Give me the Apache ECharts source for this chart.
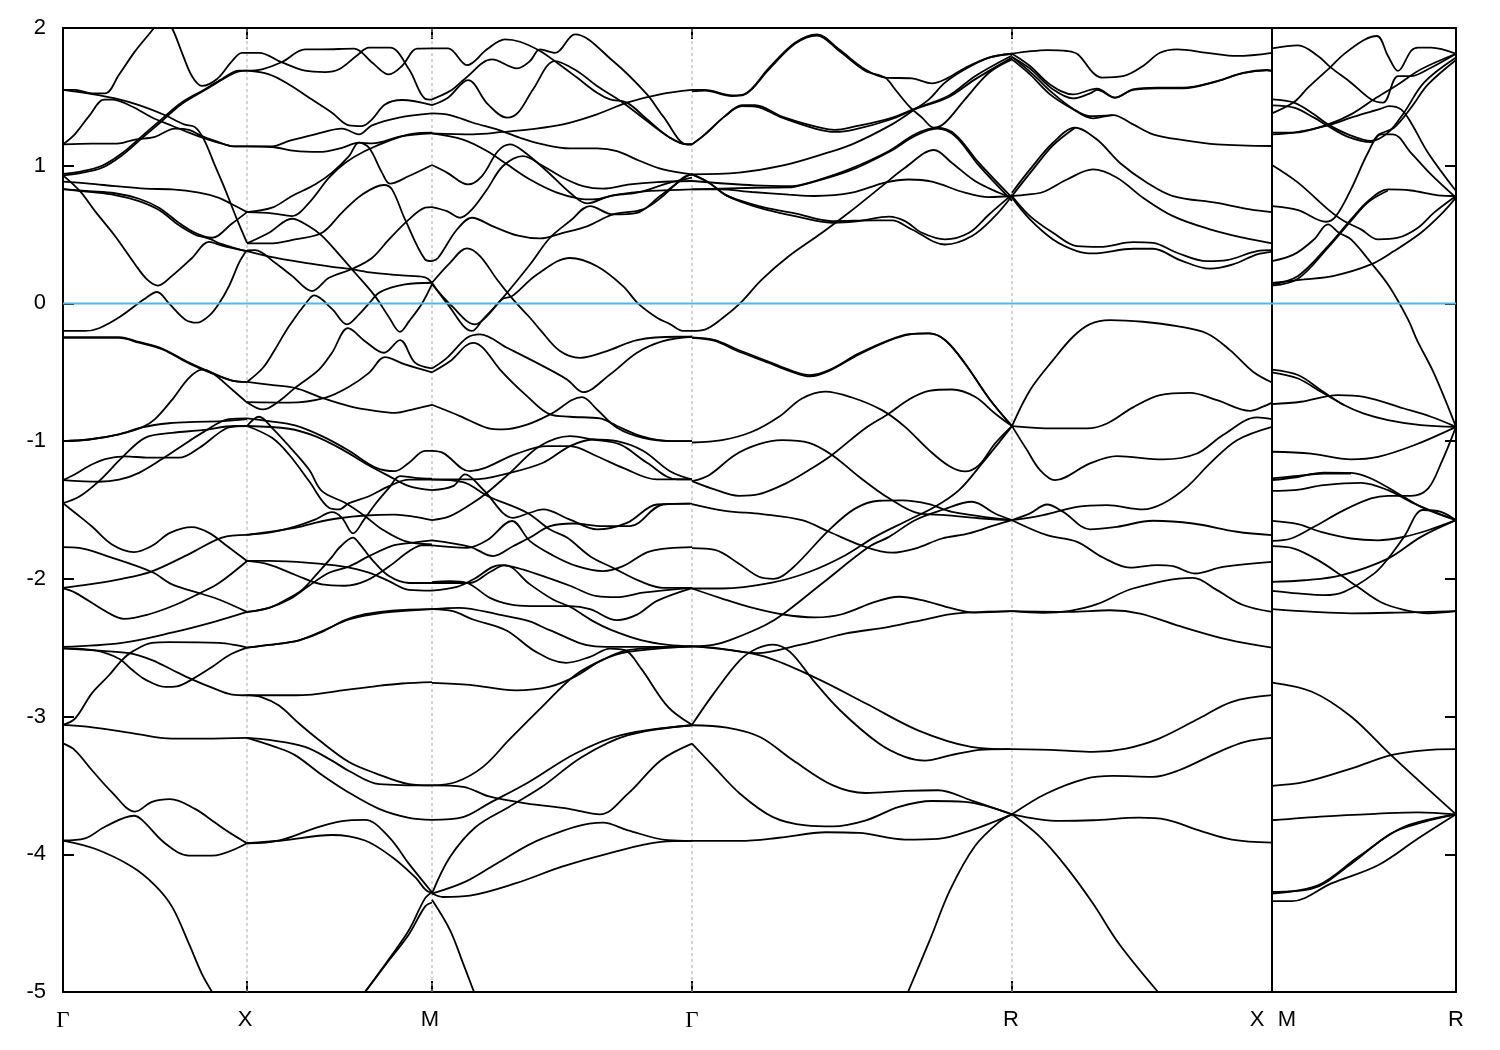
<!DOCTYPE html>
<html><head><meta charset="utf-8">
<style>html,body{margin:0;padding:0;background:#fff}#c{width:1500px;height:1050px}</style>
<script src="https://cdn.jsdelivr.net/npm/echarts@6/dist/echarts.min.js"></script>
</head><body><div id="c"></div>
<script>
// Band energies as flat k,E lists along the path (k = path distance, E = energy)
const kTicks=[0,184,369,629,949,1209,1393];
const kLabelAt=[0,182,367,629,948,1194,1224,1393];
const kLabelText=['Γ','X','M','Γ','R','X','M','R'];
const energyTicks=[-5,-4,-3,-2,-1,0,1,2];
const kBreak=1209;
const fermi=0;

const bandsGammaX=[
[0,1.55,12,1.55,29,1.525,42,1.525,56,1.66,72,1.83,91,2.0,100,2.09,109,2.0,119,1.82,129,1.65,139,1.58,154,1.63,169,1.76,179,1.82,184,1.82],
[0,1.55,29,1.52,51,1.49,76,1.44,101,1.37,121,1.30,132,1.28,141,1.19,152,1.0,162,.83,174,.61,184,.44],
[0,1.155,12,1.23,26,1.36,41,1.48,49,1.48,69,1.43,89,1.35,109,1.29,126,1.24,141,1.20,159,1.16,172,1.14,184,1.14],
[0,1.155,29,1.16,54,1.16,72,1.19,92,1.21,112,1.27,126,1.26,139,1.215,152,1.18,172,1.14,184,1.14],
[0,.94,16,.955,39,1.0,59,1.09,79,1.215,99,1.34,119,1.46,142,1.555,159,1.63,176,1.69,184,1.69],
[0,.93,16,.945,39,.985,59,1.075,79,1.2,99,1.325,119,1.45,142,1.55,159,1.625,176,1.685,184,1.69],
[0,.93,17,.815,32,.67,52,.49,72,.285,84,.175,95,.13,109,.2,129,.33,146,.447,159,.42,184,.38],
[0,.83,26,.815,52,.80,76,.76,96,.695,116,.585,132,.513,149,.477,169,.58,184,.663],
[0,.83,26,.81,52,.787,76,.743,96,.678,116,.567,132,.50,146,.47,159,.43,177,.39,184,.38],
[0,.884,26,.87,52,.852,82,.833,109,.828,136,.804,156,.767,169,.72,184,.663],
[0,-.20,22,-.20,36,-.18,57,-.097,81,.03,94,.083,106,0,122,-.116,134,-.14,146,-.09,156,0,166,.126,176,.295,182,.368,184,.385],
[0,-.245,56,-.245,76,-.28,99,-.327,126,-.43,149,-.504,169,-.56,184,-.57],
[0,-.25,56,-.25,76,-.285,99,-.332,126,-.435,149,-.508,169,-.56,184,-.57],
[0,-1.0,26,-.988,56,-.95,79,-.90,92,-.84,109,-.70,126,-.54,139,-.48,149,-.504,169,-.625,184,-.72],
[0,-1.0,26,-.988,56,-.95,79,-.90,106,-.87,132,-.86,159,-.855,184,-.84],
[0,-1.283,12,-1.24,26,-1.18,42,-1.13,62,-1.11,86,-1.12,116,-1.12,136,-1.05,156,-.94,166,-.90,184,-.89],
[0,-1.283,36,-1.295,56,-1.28,76,-1.23,99,-1.13,126,-1.0,142,-.927,166,-.84,184,-.835],
[0,-1.45,16,-1.404,36,-1.29,59,-1.12,82,-.976,109,-.94,139,-.92,172,-.89,184,-.89],
[0,-1.45,12,-1.52,29,-1.62,49,-1.75,71,-1.806,89,-1.76,107,-1.666,129,-1.625,146,-1.666,162,-1.75,184,-1.87],
[0,-1.77,16,-1.775,42,-1.83,89,-1.95,109,-2.04,139,-2.11,156,-2.15,184,-2.24],
[0,-2.065,26,-2.04,59,-2.0,89,-1.945,126,-1.82,159,-1.70,184,-1.68],
[0,-2.07,12,-2.10,46,-2.25,61,-2.29,86,-2.257,112,-2.19,136,-2.107,156,-2.03,184,-1.87],
[0,-2.494,59,-2.465,112,-2.385,152,-2.31,184,-2.24],
[0,-2.505,32,-2.52,56,-2.58,69,-2.66,82,-2.73,102,-2.785,114,-2.78,129,-2.73,149,-2.64,166,-2.555,184,-2.50],
[0,-2.505,32,-2.52,66,-2.54,89,-2.59,109,-2.66,129,-2.73,149,-2.79,169,-2.84,184,-2.845],
[0,-3.06,12,-3.015,29,-2.83,46,-2.70,59,-2.59,69,-2.53,89,-2.465,106,-2.46,156,-2.465,172,-2.48,184,-2.50],
[0,-3.06,26,-3.075,69,-3.12,109,-3.16,142,-3.16,184,-3.155],
[0,-3.195,12,-3.245,29,-3.39,49,-3.55,72,-3.69,89,-3.62,107,-3.60,132,-3.67,152,-3.77,166,-3.84,184,-3.92],
[0,-3.90,22,-3.885,42,-3.80,71,-3.72,79,-3.75,102,-3.92,126,-4.01,149,-4.01,184,-3.92],
[0,-3.90,32,-3.96,69,-4.09,92,-4.225,109,-4.38,126,-4.65,139,-4.87,150,-5.01]
];
const bandsXM=[
[184,1.82,196,1.82,219,1.75,242,1.69,262,1.68,276,1.70,294,1.80,306,1.857,327,1.857,346,1.70,362,1.487,369,1.48],
[184,1.69,199,1.70,219,1.753,242,1.845,259,1.845,291,1.85,309,1.75,326,1.663,339,1.724,354,1.85,369,1.852],
[184,1.69,206,1.663,226,1.59,249,1.48,269,1.385,286,1.293,299,1.288,309,1.337,322,1.445,339,1.477,369,1.44],
[184,1.14,209,1.14,226,1.18,252,1.228,279,1.27,296,1.228,309,1.293,336,1.35,369,1.38],
[184,1.14,209,1.136,232,1.107,256,1.10,279,1.13,296,1.167,309,1.162,339,1.215,369,1.235],
[184,.663,209,.695,229,.78,252,.864,269,.95,286,1.07,296,1.167,306,1.13,319,.95,327,.87,346,.925,369,1.005],
[184,.663,209,.654,229,.634,246,.73,266,.913,282,1.02,302,1.107,329,1.19,349,1.232,369,1.24],
[184,.436,206,.513,229,.615,246,.56,259,.49,276,.356,292,.223,312,.053,326,-.10,337,-.206,346,-.13,359,0,369,.14],
[184,.38,212,.332,242,.295,269,.266,289,.247,309,.223,339,.203,362,.19,369,.15],
[184,.385,192,.387,212,.295,229,.2,249,.09,266,.186,289,.25,309,.33,326,.465,346,.61,362,.695,369,.70],
[184,.436,206,.436,232,.465,259,.513,279,.66,299,.79,321,.86,329,.828,342,.61,362,.32,369,.307],
[184,-.57,200,-.467,212,-.334,226,-.165,246,.03,251,.058,269,-.04,284,-.152,296,-.08,306,0,317,.082,342,.138,369,.15],
[184,-.57,206,-.59,232,-.613,259,-.685,286,-.745,312,-.78,332,-.795,352,-.765,369,-.736],
[184,-.717,200,-.77,216,-.71,232,-.613,256,-.48,269,-.358,285,-.18,302,-.274,321,-.358,337,-.266,352,-.43,369,-.472],
[184,-.717,226,-.72,262,-.685,286,-.605,306,-.504,322,-.39,342,-.443,369,-.50],
[184,-.835,206,-.855,232,-.886,259,-.964,286,-1.07,312,-1.19,332,-1.218,346,-1.157,362,-1.07,369,-1.07],
[184,-.89,196,-.823,209,-.903,226,-1.036,246,-1.206,259,-1.363,282,-1.448,302,-1.545,319,-1.64,342,-1.726,369,-1.75],
[184,-.89,209,-.976,226,-1.097,246,-1.29,266,-1.484,276,-1.496,286,-1.45,306,-1.40,326,-1.327,346,-1.28,369,-1.28],
[184,-.89,226,-.91,252,-.964,279,-1.06,306,-1.177,326,-1.254,346,-1.327,369,-1.356],
[184,-1.68,209,-1.66,232,-1.62,252,-1.57,269,-1.516,279,-1.557,290,-1.67,301,-1.57,312,-1.46,326,-1.34,337,-1.254,352,-1.266,369,-1.273],
[184,-1.68,232,-1.63,252,-1.593,276,-1.56,302,-1.54,332,-1.533,352,-1.55,369,-1.574],
[184,-1.87,206,-1.87,246,-1.884,279,-1.91,306,-1.955,326,-2.017,346,-2.08,369,-2.085],
[184,-1.87,206,-1.896,232,-1.97,259,-2.04,282,-2.05,302,-2.017,326,-1.91,346,-1.80,359,-1.757,369,-1.757],
[184,-2.24,206,-2.21,222,-2.155,239,-2.08,252,-1.98,269,-1.84,276,-1.776,290,-1.70,296,-1.74,309,-1.86,326,-1.98,346,-2.03,369,-2.03],
[184,-2.24,206,-2.21,226,-2.15,246,-2.05,266,-1.956,286,-1.91,306,-1.835,329,-1.76,346,-1.74,369,-1.72],
[184,-2.50,206,-2.48,236,-2.446,259,-2.385,282,-2.30,302,-2.257,329,-2.23,369,-2.22],
[184,-2.50,206,-2.48,236,-2.446,262,-2.37,286,-2.295,316,-2.25,369,-2.22],
[184,-2.845,226,-2.845,249,-2.84,279,-2.81,312,-2.78,339,-2.76,369,-2.75],
[184,-2.845,199,-2.86,216,-2.92,236,-3.05,256,-3.17,286,-3.33,312,-3.41,346,-3.49,369,-3.50],
[184,-3.155,206,-3.17,242,-3.22,269,-3.32,286,-3.395,316,-3.49,369,-3.50],
[184,-3.155,212,-3.22,232,-3.28,259,-3.425,282,-3.535,316,-3.67,346,-3.735,369,-3.75],
[184,-3.92,216,-3.90,252,-3.81,279,-3.76,302,-3.75,326,-3.875,346,-4.07,366,-4.25,369,-4.275],
[184,-3.92,219,-3.90,269,-3.86,302,-3.90,329,-4.02,352,-4.165,367,-4.275,369,-4.275],
[301,-5.01,326,-4.77,346,-4.58,362,-4.38,369,-4.35],
[301,-5.01,326,-4.76,346,-4.55,362,-4.32,369,-4.275]
];
const bandsMGamma=[
[369,1.852,385,1.852,404,1.73,424,1.845,442,1.918,457,1.90,477,1.833,494,1.748,514,1.64,534,1.53,547,1.482,564,1.458,584,1.337,607,1.203,624,1.155,629,1.155],
[369,1.482,387,1.542,402,1.632,429,1.772,454,1.707,467,1.76,477,1.845,492,1.82,512,1.954,550,1.76,584,1.518,600,1.36,624,1.155,629,1.155],
[369,1.44,385,1.494,405,1.622,425,1.445,444,1.349,455,1.385,470,1.554,492,1.76,514,1.688,534,1.579,560,1.458,584,1.324,607,1.203,624,1.155,629,1.155],
[369,1.235,410,1.228,440,1.245,467,1.264,500,1.30,534,1.373,564,1.458,597,1.518,629,1.55],
[369,1.38,387,1.368,410,1.312,434,1.264,457,1.203,480,1.155,507,1.126,534,1.126,554,1.106,577,1.034,600,.973,629,.937],
[369,1.235,400,1.19,424,1.107,444,1.01,467,.90,494,.804,517,.76,530,.755,554,.79,584,.816,607,.823,629,.828],
[369,1.005,384,.95,405,.864,419,.925,435,1.107,447,1.155,460,1.107,484,.96,507,.804,524,.726,547,.78,574,.804,607,.877,629,.913],
[369,.70,384,.67,397,.622,409,.683,424,.828,440,.998,460,1.07,480,.998,500,.913,520,.852,540,.833,567,.864,594,.881,629,.889],
[369,.307,375,.33,394,.537,409,.622,430,.56,454,.494,477,.472,500,.513,524,.56,550,.646,580,.683,600,.78,620,.913,629,.937],
[369,.15,387,.295,404,.40,417,.344,434,.174,450,.03,467,-.104,477,-.19,497,-.346,517,-.395,544,-.346,574,-.266,614,-.242,629,-.242],
[369,.15,384,0,409,-.20,420,-.116,437,.017,467,.283,487,.477,507,.598,527,.707,550,.646,574,.658,597,.78,624,.925,629,.937],
[369,.14,389,-.02,412,-.152,424,-.092,439,.03,449,.053,474,.21,507,.33,534,.27,560,.126,575,0,594,-.104,607,-.15,620,-.20,629,-.20],
[369,-.472,384,-.395,404,-.25,417,-.225,444,-.322,480,-.455,504,-.552,520,-.644,547,-.516,574,-.358,600,-.274,629,-.242],
[369,-.50,387,-.42,410,-.286,420,-.322,437,-.48,464,-.673,487,-.806,507,-.823,537,-.835,554,-.89,580,-.968,607,-1.0,629,-1.0],
[369,-.736,397,-.818,424,-.903,440,-.915,464,-.88,487,-.806,519,-.68,534,-.77,554,-.903,580,-.976,610,-1.0,629,-1.0],
[369,-1.07,380,-1.085,407,-1.218,454,-1.09,484,-1.036,507,-1.036,534,-1.11,560,-1.194,594,-1.278,629,-1.278],
[369,-1.278,410,-1.278,447,-1.23,480,-1.157,507,-1.036,530,-.988,554,-1.0,580,-1.07,607,-1.218,629,-1.278],
[369,-1.356,390,-1.327,402,-1.242,420,-1.351,450,-1.557,467,-1.52,480,-1.496,507,-1.57,534,-1.64,564,-1.593,594,-1.46,627,-1.453],
[369,-1.574,387,-1.545,410,-1.448,424,-1.375,447,-1.23,477,-1.036,507,-.964,530,-.988,557,-1.024,584,-1.157,614,-1.278,629,-1.278],
[369,-1.28,400,-1.298,425,-1.40,464,-1.52,487,-1.642,504,-1.70,527,-1.835,550,-1.92,577,-2.017,600,-2.065,629,-2.065],
[369,-1.757,404,-1.775,424,-1.72,449,-1.58,467,-1.726,490,-1.83,514,-1.908,540,-1.944,560,-1.908,587,-1.80,629,-1.77],
[369,-1.72,407,-1.767,430,-1.835,450,-1.763,467,-1.70,487,-1.617,510,-1.598,540,-1.617,567,-1.617,600,-1.46,629,-1.453],
[369,-2.024,387,-2.017,404,-2.03,427,-2.138,447,-2.186,467,-2.198,507,-2.198,527,-2.22,554,-2.30,574,-2.26,594,-2.16,629,-2.067],
[369,-2.085,394,-2.058,410,-2.005,437,-1.90,454,-1.92,480,-1.98,507,-2.05,534,-2.126,554,-2.133,580,-2.10,629,-2.065],
[369,-2.03,407,-2.03,427,-1.95,442,-1.90,467,-2.04,490,-2.15,507,-2.203,530,-2.307,548,-2.37,578,-2.445,605,-2.48,629,-2.49],
[369,-2.22,390,-2.235,410,-2.295,443,-2.373,473,-2.53,503,-2.61,527,-2.566,547,-2.506,562,-2.518,578,-2.65,605,-2.93,629,-3.06],
[369,-2.22,396,-2.21,436,-2.26,466,-2.307,486,-2.37,532,-2.49,558,-2.494,611,-2.494,629,-2.49],
[369,-4.285,387,-4.02,413,-3.80,446,-3.656,479,-3.51,519,-3.293,565,-3.135,629,-3.063],
[369,-4.285,402,-4.20,433,-4.07,479,-3.886,540,-3.77,565,-3.826,605,-3.898,629,-3.903],
[369,-4.285,380,-4.31,407,-4.30,453,-4.21,499,-4.09,545,-3.995,598,-3.91,629,-3.903],
[369,-4.33,387,-4.55,400,-4.79,411,-5.0],
[369,-2.755,407,-2.77,453,-2.81,486,-2.785,512,-2.71,539,-2.59,565,-2.53,629,-2.49],
[369,-3.5,400,-3.51,426,-3.58,463,-3.63,506,-3.67,537,-3.71,565,-3.56,598,-3.317,629,-3.196],
[369,-3.75,400,-3.73,426,-3.63,466,-3.475,512,-3.27,558,-3.135,629,-3.063],
[369,-3.5,393,-3.475,420,-3.365,446,-3.17,479,-2.93,512,-2.70,539,-2.59,565,-2.518,629,-2.49]
];
const bandsGammaR=[
[629,1.55,642,1.55,669,1.51,681,1.518,706,1.71,732,1.893,754,1.954,776,1.845,802,1.70,822,1.64,849,1.634,869,1.598,882,1.627,902,1.71,926,1.785,949,1.813],
[629,1.54,642,1.545,669,1.505,681,1.515,706,1.70,732,1.885,754,1.945,776,1.835,802,1.69,822,1.64,832,1.555,846,1.433,859,1.349,871,1.276,882,1.312,902,1.482,926,1.675,949,1.772],
[629,1.155,642,1.228,662,1.36,679,1.433,692,1.43,719,1.349,752,1.27,772,1.245,792,1.264,826,1.332,852,1.41,886,1.50,912,1.627,949,1.785],
[629,1.155,642,1.228,662,1.36,679,1.44,692,1.44,719,1.356,752,1.285,772,1.26,792,1.285,826,1.342,852,1.415,886,1.51,912,1.65,949,1.80],
[629,.937,676,.95,719,1.0,759,1.082,789,1.155,829,1.30,852,1.41,866,1.482,882,1.603,902,1.70,926,1.785,949,1.813],
[629,.889,692,.857,729,.852,752,.889,786,.973,826,1.107,852,1.228,874,1.276,892,1.228,916,1.02,949,.768],
[629,.828,692,.84,726,.842,739,.86,786,.962,826,1.10,852,1.216,874,1.27,892,1.216,916,1.0,949,.745],
[629,.828,656,.828,689,.809,726,.79,752,.78,789,.804,822,.877,846,.90,869,.884,902,.804,926,.772,949,.78],
[629,.937,646,.877,662,.79,679,.743,702,.695,732,.654,769,.598,812,.603,829,.603,849,.537,882,.428,909,.49,932,.634,949,.78],
[629,.937,646,.877,662,.79,679,.736,702,.683,732,.634,769,.586,796,.598,826,.63,842,.598,859,.513,882,.465,906,.513,926,.646,949,.79],
[629,-.20,642,-.19,659,-.11,677,0,699,.174,726,.344,759,.513,786,.66,819,.852,842,.985,871,1.114,889,1.02,912,.889,936,.804,949,.768],
[629,-.247,652,-.266,672,-.327,706,-.424,729,-.489,747,-.52,766,-.484,796,-.363,826,-.266,846,-.223,866,-.218,882,-.266,902,-.436,926,-.69,949,-.891],
[629,-.25,652,-.272,672,-.338,706,-.432,729,-.497,747,-.53,766,-.49,796,-.37,826,-.27,846,-.226,866,-.218,882,-.266,902,-.436,926,-.69,949,-.891],
[629,-1.01,659,-.993,689,-.932,716,-.823,739,-.69,762,-.64,789,-.683,819,-.775,842,-.896,866,-1.065,886,-1.18,902,-1.22,916,-1.174,932,-1.017,949,-.891],
[629,-1.29,646,-1.247,672,-1.10,696,-1.022,719,-.993,746,-1.012,769,-1.10,796,-1.258,826,-1.415,856,-1.525,882,-1.537,916,-1.56,949,-1.574],
[629,-1.29,649,-1.344,676,-1.397,696,-1.385,722,-1.31,746,-1.21,769,-1.10,802,-.908,826,-.799,846,-.697,866,-.635,889,-.625,912,-.678,932,-.799,949,-.891],
[629,-1.457,662,-1.506,699,-1.53,739,-1.574,766,-1.658,802,-1.767,829,-1.81,852,-1.78,879,-1.707,906,-1.67,932,-1.61,949,-1.574],
[629,-1.777,652,-1.79,676,-1.89,696,-1.985,711,-2.0,729,-1.925,766,-1.646,792,-1.49,816,-1.433,839,-1.43,866,-1.457,889,-1.513,949,-1.574],
[629,-2.07,659,-2.07,709,-2.027,746,-1.95,782,-1.83,812,-1.695,842,-1.585,872,-1.477,896,-1.356,919,-1.162,949,-.891],
[629,-2.07,659,-2.143,686,-2.203,719,-2.257,752,-2.28,779,-2.257,812,-2.167,836,-2.13,859,-2.155,889,-2.215,912,-2.245,949,-2.235],
[629,-2.49,650,-2.48,667,-2.445,702,-2.337,721,-2.252,759,-2.034,806,-1.767,826,-1.695,852,-1.574,879,-1.50,909,-1.44,932,-1.525,949,-1.574],
[629,-2.49,650,-2.50,694,-2.54,737,-2.48,757,-2.445,782,-2.397,826,-2.349,866,-2.288,892,-2.252,949,-2.235],
[629,-2.49,697,-2.555,750,-2.71,803,-2.905,855,-3.10,908,-3.22,947,-3.237],
[629,-3.06,651,-2.83,677,-2.59,694,-2.506,710,-2.477,727,-2.53,750,-2.735,777,-2.954,816,-3.196,842,-3.293,862,-3.32,888,-3.28,921,-3.24,949,-3.237],
[629,-3.063,664,-3.08,697,-3.148,730,-3.317,770,-3.50,803,-3.555,842,-3.54,875,-3.535,908,-3.608,949,-3.71],
[629,-3.196,651,-3.365,677,-3.56,710,-3.73,743,-3.79,770,-3.797,803,-3.753,836,-3.656,869,-3.613,902,-3.62,949,-3.71],
[629,-3.903,677,-3.903,716,-3.88,763,-3.84,796,-3.845,842,-3.893,875,-3.888,908,-3.826,949,-3.71],
[845,-5.0,867,-4.62,887,-4.26,912,-3.94,937,-3.76,949,-3.71]
];
const bandsRX=[
[949,1.813,964,1.828,984,1.84,1004,1.833,1015,1.808,1030,1.675,1039,1.64,1060,1.65,1080,1.724,1097,1.82,1114,1.845,1144,1.82,1174,1.797,1209,1.82],
[949,1.813,967,1.724,987,1.59,1010,1.518,1034,1.56,1052,1.494,1070,1.554,1094,1.567,1120,1.567,1154,1.615,1180,1.675,1204,1.695,1209,1.688],
[949,1.79,967,1.705,990,1.554,1010,1.489,1027,1.525,1034,1.55,1052,1.494,1070,1.55,1094,1.562,1120,1.562,1154,1.612,1180,1.672,1204,1.692,1209,1.688],
[949,1.772,967,1.663,987,1.518,1010,1.41,1030,1.344,1050,1.368,1070,1.30,1090,1.228,1120,1.186,1154,1.155,1209,1.143],
[949,1.79,970,1.663,990,1.525,1010,1.414,1027,1.36,1050,1.368],
[949,.804,967,.973,990,1.167,1012,1.276,1034,1.19,1057,1.02,1084,.877,1110,.78,1154,.73,1187,.683,1209,.663],
[949,.78,970,.973,990,1.148,1012,1.276],
[949,.78,964,.79,980,.809,1004,.90,1030,.973,1054,.913,1080,.768,1110,.634,1147,.538,1180,.477,1209,.436],
[949,.78,967,.634,990,.513,1014,.416,1037,.41,1070,.445,1090,.44,1114,.368,1144,.307,1164,.315,1194,.38,1209,.387],
[949,.768,967,.61,990,.465,1014,.38,1030,.363,1070,.397,1090,.397,1117,.315,1147,.252,1170,.283,1194,.356,1209,.375],
[949,-.891,967,-.63,990,-.412,1010,-.242,1027,-.15,1047,-.121,1080,-.133,1114,-.165,1144,-.218,1167,-.339,1190,-.496,1209,-.574],
[949,-.891,990,-.908,1024,-.908,1044,-.872,1070,-.755,1097,-.666,1127,-.649,1154,-.702,1187,-.78,1200,-.75,1209,-.72],
[949,-.891,964,-1.065,977,-1.21,992,-1.283,1027,-1.162,1054,-1.109,1100,-1.133,1134,-1.09,1160,-.956,1194,-.828,1209,-.84],
[949,-1.574,967,-1.525,984,-1.46,1000,-1.513,1027,-1.64,1054,-1.622,1090,-1.578,1130,-1.598,1174,-1.658,1209,-1.683],
[949,-1.574,980,-1.537,1014,-1.477,1044,-1.465,1080,-1.496,1100,-1.453,1124,-1.332,1147,-1.162,1174,-.993,1209,-.896],
[949,-1.574,984,-1.683,1014,-1.731,1040,-1.845,1067,-1.918,1094,-1.90,1110,-1.908,1132,-1.961,1160,-1.913,1209,-1.877],
[949,-2.235,980,-2.247,1007,-2.232,1034,-2.184,1070,-2.07,1130,-1.993,1154,-2.082,1180,-2.19,1209,-2.24],
[949,-2.235,1007,-2.24,1047,-2.228,1077,-2.252,1114,-2.337,1164,-2.44,1209,-2.50],
[949,-3.237,997,-3.245,1030,-3.256,1063,-3.232,1096,-3.16,1136,-3.014,1169,-2.893,1209,-2.845],
[949,-3.71,983,-3.56,1023,-3.45,1050,-3.431,1090,-3.438,1116,-3.39,1156,-3.256,1182,-3.184,1209,-3.155],
[949,-3.71,997,-3.758,1030,-3.753,1076,-3.734,1103,-3.748,1136,-3.826,1169,-3.893,1209,-3.915],
[949,-3.71,977,-3.874,1003,-4.09,1030,-4.358,1056,-4.65,1095,-5.0]
];
const bandsMR=[
[1209,1.852,1235,1.874,1255,1.797,1268,1.712,1288,1.603,1308,1.482,1320,1.458,1335,1.65,1348,1.65,1365,1.70,1393,1.813],
[1209,1.38,1231,1.462,1245,1.567,1268,1.72,1281,1.81,1301,1.913,1314,1.942,1325,1.797,1335,1.688,1348,1.833,1355,1.857,1368,1.857,1393,1.813],
[1209,1.482,1231,1.458,1251,1.373,1265,1.30,1285,1.228,1308,1.18,1325,1.24,1341,1.385,1361,1.603,1393,1.785],
[1209,1.438,1231,1.421,1251,1.349,1265,1.288,1285,1.21,1308,1.172,1316,1.228,1331,1.276,1348,1.421,1365,1.59,1393,1.768],
[1209,1.24,1231,1.24,1265,1.30,1288,1.373,1311,1.482,1335,1.59,1358,1.70,1393,1.813],
[1209,1.228,1231,1.24,1265,1.293,1291,1.356,1318,1.414,1326,1.433,1338,1.409,1348,1.312,1365,1.094,1393,.816],
[1209,1.005,1235,.877,1265,.683,1281,.598,1298,.538,1315,.465,1335,.477,1355,.55,1371,.659,1393,.78],
[1209,.707,1235,.678,1263,.593,1273,.634,1288,.828,1305,1.094,1318,1.228,1330,1.228,1348,1.094,1368,.937,1393,.768],
[1209,.307,1231,.356,1251,.465,1265,.574,1276,.513,1288,.465,1308,.295,1326,.126,1345,-.116,1354,-.266,1371,-.508,1393,-.896],
[1209,.138,1235,.2,1265,.416,1288,.61,1305,.743,1325,.828,1348,.82,1375,.785,1393,.78],
[1209,.13,1235,.18,1265,.405,1288,.60,1305,.735,1325,.82],
[1209,.15,1241,.174,1271,.2,1308,.283,1331,.38,1358,.513,1378,.646,1393,.768],
[1209,-.48,1235,-.52,1258,-.63,1281,-.738,1301,-.80,1325,-.847,1358,-.884,1393,-.896],
[1209,-.50,1235,-.545,1258,-.642,1281,-.738],
[1209,-.731,1238,-.714,1275,-.666,1301,-.678,1341,-.763,1368,-.823,1393,-.896],
[1209,-1.077,1248,-1.09,1288,-1.132,1315,-1.114,1351,-1.03,1393,-.896],
[1209,-1.283,1231,-1.264,1261,-1.228,1288,-1.23,1308,-1.271,1335,-1.38,1358,-1.477,1393,-1.574],
[1209,-1.271,1231,-1.255,1261,-1.235,1288,-1.235],
[1209,-1.361,1231,-1.356,1261,-1.32,1298,-1.303,1325,-1.356,1351,-1.453,1393,-1.574],
[1209,-1.724,1228,-1.707,1251,-1.622,1281,-1.501,1308,-1.416,1325,-1.397,1348,-1.397,1365,-1.344,1378,-1.162,1393,-.896],
[1209,-1.579,1235,-1.603,1258,-1.659,1288,-1.707,1315,-1.72,1341,-1.695,1365,-1.647,1393,-1.574],
[1209,-2.022,1241,-2.01,1278,-1.974,1325,-1.853,1358,-1.695,1393,-1.574],
[1209,-2.087,1235,-2.106,1261,-2.118,1281,-2.094,1311,-1.962,1325,-1.853,1341,-1.695,1360,-1.50,1378,-1.513,1393,-1.574],
[1209,-1.763,1231,-1.78,1255,-1.864,1278,-1.974,1295,-2.06,1318,-2.17,1341,-2.225,1365,-2.25,1393,-2.235],
[1209,-2.22,1251,-2.24,1288,-2.25,1335,-2.245,1393,-2.235],
[1209,-2.753,1249,-2.82,1288,-3.0,1328,-3.28,1393,-3.71],
[1209,-3.503,1242,-3.475,1288,-3.378,1328,-3.28,1361,-3.245,1393,-3.237],
[1209,-3.753,1262,-3.724,1315,-3.705,1355,-3.695,1393,-3.71],
[1209,-4.274,1249,-4.25,1288,-4.07,1328,-3.85,1361,-3.765,1393,-3.71],
[1209,-4.285,1255,-4.225,1295,-4.02,1341,-3.80,1393,-3.71],
[1209,-4.34,1229,-4.34,1269,-4.21,1315,-4.08,1355,-3.886,1393,-3.71]
];

const segments=[bandsGammaX,bandsXM,bandsMGamma,bandsGammaR,bandsRX,bandsMR];
function pairs(flat){const o=[];for(let i=0;i<flat.length;i+=2)o.push([flat[i],flat[i+1]]);return o;}
const series=[];
[184,369,629,949].forEach(k=>series.push({type:'line',showSymbol:false,silent:true,data:[[k,-5],[k,2]],
  lineStyle:{color:'#aaaaaa',width:1,type:[3,3]},z:1}));
segments.forEach(seg=>seg.forEach(c=>series.push({type:'line',data:pairs(c),showSymbol:false,smooth:0.35,silent:true,
  lineStyle:{color:'#000',width:1.8},z:2})));
series.push({type:'line',showSymbol:false,silent:true,data:[[kBreak,-5],[kBreak,2]],lineStyle:{color:'#000',width:2},z:3});
series.push({type:'line',showSymbol:false,silent:true,data:[[0,fermi],[1393,fermi]],lineStyle:{color:'#56b4e9',width:2},z:4});

const chart=echarts.init(document.getElementById('c'),null,{renderer:'canvas'});
const tickStyle={show:true,inside:true,length:11,lineStyle:{color:'#000',width:2}};
const frame={show:true,onZero:false,lineStyle:{color:'#000',width:2}};
chart.setOption({
  animation:false,backgroundColor:'#fff',
  grid:{left:63,top:28,right:44,bottom:58,show:false},
  xAxis:[{type:'value',min:0,max:1393,position:'bottom',
    axisLine:frame,splitLine:{show:false},
    axisTick:Object.assign({},tickStyle,{customValues:kTicks}),
    axisLabel:{show:true,customValues:kLabelAt,margin:17,color:'#000',fontSize:22,fontFamily:'Liberation Sans',hideOverlap:false,
      formatter:v=>{const i=kLabelAt.indexOf(v);const t=kLabelText[i];return t==='Γ'?'{g|Γ}':t;},
      rich:{g:{fontFamily:'Liberation Serif',fontSize:23,color:'#000'}}}},
   {type:'value',min:0,max:1393,position:'top',
    axisLine:frame,splitLine:{show:false},
    axisTick:Object.assign({},tickStyle,{customValues:kTicks}),axisLabel:{show:false}}],
  yAxis:[{type:'value',min:-5,max:2,interval:1,position:'left',
    axisLine:frame,splitLine:{show:false},axisTick:tickStyle,
    axisLabel:{margin:17,color:'#000',fontSize:22,fontFamily:'Liberation Sans',formatter:v=>String(v)}},
   {type:'value',min:-5,max:2,interval:1,position:'right',
    axisLine:frame,splitLine:{show:false},axisTick:tickStyle,axisLabel:{show:false}}],
  series:series
});
</script></body></html>
